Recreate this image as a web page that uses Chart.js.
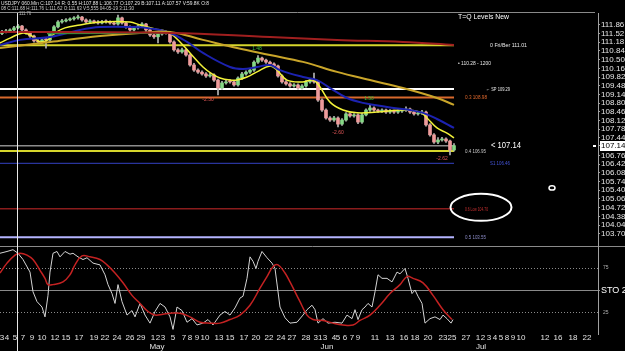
<!DOCTYPE html>
<html><head><meta charset="utf-8">
<script src="https://cdn.jsdelivr.net/npm/chart.js@4/dist/chart.umd.min.js"></script>
<style>
html,body{margin:0;padding:0;background:#000;overflow:hidden;width:625px;height:351px;}
#wrap{position:relative;width:625px;height:351px;background:#000;}
canvas{position:absolute;left:0;}
#c1{top:0;} #c2{top:246px;}
</style></head><body>
<div id="wrap"><canvas id="c1" width="625" height="246"></canvas><canvas id="c2" width="625" height="105"></canvas></div>
<script>
// ---------- DATA ----------
const opens = [111.52,111.58,111.62,111.66,111.74,111.81,111.66,111.54,111.42,111.23,
111.19,111.31,111.27,111.54,111.78,111.97,112.01,112.05,112.09,112.13,
112.16,112.05,111.97,112.01,111.97,111.93,112.01,111.97,111.93,111.89,
112.13,111.93,111.78,111.66,111.74,111.81,111.89,111.66,111.46,111.39,
111.50,111.58,111.54,111.19,110.88,110.80,110.88,110.68,110.29,110.09,
110.01,109.94,109.86,109.90,109.70,109.39,109.59,109.67,109.63,109.51,
109.78,109.94,110.01,110.09,110.40,110.56,110.48,110.40,110.33,110.25,
109.86,109.63,109.55,109.47,109.51,109.39,109.47,109.63,109.70,109.63,
108.92,108.53,108.22,108.14,108.22,107.98,108.14,108.38,108.30,108.34,
108.06,108.34,108.53,108.61,108.53,108.49,108.53,108.45,108.49,108.45,
108.49,108.53,108.57,108.45,108.38,108.41,108.45,107.95,107.56,107.28,
107.36,107.40,107.32,106.97];
const closes = [111.58,111.62,111.66,111.74,111.81,111.66,111.54,111.42,111.23,111.19,
111.27,111.27,111.54,111.78,111.97,112.01,112.05,112.09,112.13,112.16,
112.05,111.97,112.01,111.97,111.93,111.97,111.97,111.93,111.89,112.13,
111.93,111.78,111.66,111.74,111.81,111.89,111.66,111.46,111.39,111.50,
111.58,111.54,111.19,110.88,110.80,110.88,110.68,110.29,110.09,110.01,
109.94,109.86,109.90,109.70,109.39,109.59,109.63,109.63,109.51,109.78,
109.94,110.01,110.09,110.40,110.56,110.48,110.40,110.33,110.25,109.86,
109.63,109.55,109.47,109.51,109.39,109.47,109.63,109.70,109.63,108.92,
108.53,108.22,108.14,108.22,107.98,108.14,108.38,108.30,108.34,108.06,
108.34,108.53,108.61,108.53,108.49,108.53,108.45,108.49,108.45,108.49,
108.53,108.57,108.45,108.38,108.41,108.45,107.95,107.56,107.28,107.36,
107.40,107.32,106.97,107.14];
const highs = [111.64,111.68,111.70,111.80,111.88,111.84,111.70,111.58,111.46,111.28,
111.33,111.36,111.58,111.83,112.02,112.07,112.10,112.13,112.18,112.24,
112.19,112.09,112.06,112.04,112.02,112.03,112.05,112.01,111.98,112.24,
112.16,111.97,111.82,111.79,111.86,111.95,111.92,111.70,111.50,111.55,
111.63,111.61,111.58,111.23,110.93,110.95,110.92,110.72,110.35,110.14,
110.06,109.99,109.96,109.94,109.74,109.65,109.69,109.72,109.67,109.83,
110.00,110.06,110.14,110.45,110.66,110.60,110.52,110.44,110.37,110.29,
109.91,109.68,109.60,109.56,109.55,109.52,109.68,109.76,109.97,109.67,
108.97,108.58,108.27,108.28,108.26,108.20,108.43,108.42,108.39,108.38,
108.40,108.58,108.75,108.66,108.57,108.58,108.57,108.55,108.53,108.54,
108.60,108.66,108.61,108.50,108.46,108.52,108.49,108.00,107.61,107.45,
107.46,107.44,107.36,107.22];
const lows = [111.47,111.54,111.58,111.62,111.70,111.62,111.49,111.37,111.18,111.13,
111.14,110.95,111.22,111.49,111.74,111.92,111.97,112.01,112.04,112.08,
112.00,111.92,111.93,111.92,111.88,111.89,111.92,111.88,111.85,111.84,
111.88,111.73,111.61,111.62,111.69,111.76,111.60,111.41,111.33,111.15,
111.45,111.49,111.14,110.83,110.74,110.75,110.63,110.24,110.04,109.96,
109.89,109.80,109.81,109.65,109.12,109.34,109.54,109.58,109.46,109.46,
109.73,109.89,109.96,110.04,110.35,110.43,110.35,110.28,110.20,109.81,
109.58,109.50,109.42,109.42,109.34,109.35,109.42,109.58,109.58,108.87,
108.48,108.17,108.09,108.09,107.87,107.93,108.10,108.25,108.25,108.00,
108.01,108.30,108.48,108.48,108.44,108.44,108.40,108.40,108.40,108.40,
108.44,108.48,108.40,108.33,108.33,108.36,107.90,107.51,107.23,107.22,
107.31,107.27,106.78,106.92];

// moving averages (bar index, price)
const fastBars = [-0.5,2,5.25,7.5,9.5,11.5,13.25,15.75,19.5,24.5,32,34.5,38.25,40.75,42,44.5,47,50.25,52.5,54.5,57,58.75,61.25,63.75,67,68.75,71.25,75.25,77.75,79.5,82,85.25,88.75,93.75,100.25,104.5,106.25,108.75,111.25,113];
const fastVals = [111.15,111.34,111.54,111.42,111.19,111.27,111.54,111.74,111.85,111.97,111.97,111.85,111.70,111.62,111.54,111.19,110.76,110.21,109.94,109.78,109.70,109.70,109.82,110.02,110.25,110.09,109.70,109.63,109.70,109.43,108.84,108.53,108.42,108.45,108.53,108.45,108.22,107.83,107.63,107.44];
const blueBars = [-0.5,4.5,12,19.5,24.5,33,37.75,42,46.25,50.25,57,60.25,63.75,67,69.5,75.25,78.75,82,86.25,90.25,96.25,102,105.25,108.75,113];
const blueVals = [111.07,111.27,111.38,111.66,111.77,111.77,111.70,111.54,111.19,110.76,110.21,110.13,110.21,110.29,110.09,109.82,109.70,109.39,109.00,108.81,108.65,108.53,108.42,108.18,107.83];
const goldBars = [-0.5,12,24.5,34.5,42,50.25,58.75,67,75.25,83.75,92,100.25,108.75,113];
const goldVals = [110.95,111.19,111.42,111.54,111.58,111.27,110.95,110.68,110.41,110.02,109.70,109.39,109.00,108.73];
const redBars = [-0.5,42,67,83.75,100.25,113];
const redVals = [111.58,111.54,111.38,111.27,111.19,111.07];
const greenBars = [11.25,42];
const greenVals = [111.52,111.54];

// horizontal levels
const levelVals = [111.06,109.35,109.02,107.14,106.93,106.45,104.67,103.56];
const levelTexts = ['0 Fri/Ber 111.01','\u2190 SP 109.29','0.3 108.98','','0.4 106.95','S1 106.46','0.6 Low 104.70','0.5 103.55'];
const pivotVal = 110.28, pivotText = '\u2022 110.28 - 1200';
const lastPrice = 107.14;

// swing annotations
const swingBars = [5.75,51.5,63.75,84,91.75,110];
const swingVals = [112.28,108.92,110.91,107.63,108.96,106.62];
const swingTexts = ['111.76','-2.30','1.48','-2.60','1.50','-2.62'];

// price axis ticks
const yTicks = [111.86,111.52,111.18,110.84,110.50,110.16,109.82,109.48,109.14,108.80,108.46,108.12,107.78,107.44,107.14,106.76,106.42,106.08,105.74,105.40,105.06,104.72,104.38,104.04,103.70];

// stochastic (bar index, value)
const kBars = [-0.5,1.25,2.75,4,5.25,7,7.75,8.75,10,10.75,11.5,12,12.75,13.75,14.5,15.75,17,17.75,19,20.25,21.25,22.75,24.5,25.75,26.5,27.5,28.25,29,30,31.25,32.5,33.25,34.5,35.75,37,38.25,39.5,40.75,42,42.75,43.75,45,46.25,47.5,48.75,50.25,51.5,52.75,54.5,55.75,57,58.25,59.5,60.25,61.25,62,62.75,63.5,64,65,66.25,67.5,68.25,69.5,70.75,72,73.75,75.25,76.25,77.5,78.25,79,80.25,81.5,83.25,85,86.25,87.5,88.25,89,90,90.75,91.5,92.5,93.25,94,95,96.25,97.5,98.75,99.5,100.75,101.5,102.5,103.25,104,105,105.75,107,108.25,109.5,110.25,111.25,112.25,112.75];
const kVals = [91,93,95,91,84,70,48,37,31,20,44,70,91,93,87,93,90,91,87,84,86,80,78,67,56,46,35,56,37,22,27,20,35,22,13,26,35,31,20,6,31,27,14,18,11,13,17,11,22,26,22,30,41,43,63,87,82,74,82,93,86,80,74,31,19,13,14,22,28,33,28,13,18,13,14,13,22,18,28,17,28,31,35,31,48,67,63,63,59,70,68,74,63,46,50,43,35,13,18,20,17,22,18,13,17];
const dBars = [-0.5,1.25,3.25,4.5,6.25,7.75,9.5,10.75,11.5,12.75,15.25,17,18.25,20,22,24.5,26.25,28.25,30.25,32.5,34.5,36.5,38.25,40.25,42,44.5,47,49.5,52,54.5,57,59.5,62,64.5,66.25,67.75,69,70.75,72,74.5,76.25,77.75,80.25,82.75,85.25,87.75,89.5,92,94.5,97,99.5,101.25,102.75,105.25,107.75,110.25,112.5];
const dVals = [69,80,89,91,89,84,72,63,56,56,59,67,78,88,87,84,78,69,58,44,35,26,22,23,24,24,20,14,13,13,17,22,33,52,65,76,78,69,59,37,22,17,16,13,11,11,16,22,33,46,56,65,63,58,44,28,17];
const stoLevels = [75,50,25];
const stoText = 'STO 24';

// date axis
const tickBars = [0,1.25,3.25,5.25,7.5,10,13.25,16,19.25,23,25.75,28.75,32,34.75,37.75,39,40.25,42.75,45.5,47,48.75,50.75,54.25,57,60.5,63.5,66.75,69.75,72.5,76,79,80.75,83,84,85.75,87.5,89,93.25,97,100.5,103.25,106.5,110.25,112.5,116,119,120.25,121.75,123.25,124.75,126.25,127.75,129.75,135.75,139,142.75,146.25];
const tickLabels = ['3','4','5','7','9','10','12','15','17','19','22','24','26','29','1','2','3','5','7','8','9','10','13','15','17','20','22','24','27','28','31','3','4','5','6','7','9','11','13','16','18','20','23','25','27','1','2','3','4','5','8','9','10','12','16','18','22'];
const monthBars = [38.75, 81.25, 119.75];
const monthLabels = ['May','Jun','Jul'];
const cursorBar = 3.75;

const header1 = 'USDJPY 060.Min C:107.14 R: 0.55 H:107.88 L:106.77 O:107.29 B:107.11 A:107.57 V:59.8K O:8';
const header2 = '08 C:111.68 H:111.76 L:111.62 O:111.63 V:5,555 04-05-19 3:11:30';
const panelTitle = 'T=Q Levels New';

// ---------- STYLE ----------
const FONT = "'Liberation Sans', Arial, sans-serif";
const UP = '#86d886', DOWN = '#ee9b9b', WICK = '#b4b4b4';
const levelStyle = [
  {c:'#d6d62c', w:2, tx:490, tw:37, tc:'#e6e6e6'},
  {c:'#ffffff', w:2, tx:486, tw:24, tc:'#e6e6e6'},
  {c:'#d8692c', w:2, tx:465, tw:22, tc:'#e0682c'},
  {c:'#8c8c8c', w:1.5, tx:0, tw:0, tc:'#fff'},
  {c:'#d6d62c', w:2, tx:465, tw:21, tc:'#c8c8c8'},
  {c:'#3442c4', w:1, tx:490, tw:20, tc:'#4454d8'},
  {c:'#8a1c1c', w:1.5, tx:465, tw:23, tc:'#c83030'},
  {c:'#b4b4ff', w:2, tx:465, tw:21, tc:'#8c8cc8'}
];
Chart.defaults.font.family = FONT;
Chart.defaults.color = '#e0e0e0';

const pts = (xs, ys) => xs.map((x,i)=>({x:x, y:ys[i]}));
const maLine = (xs, ys, color, w) => ({type:'line', data:pts(xs,ys), borderColor:color, borderWidth:w, pointRadius:0, tension:0.4, fill:false, order:1});

const datasets = [
  maLine(redBars, redVals, '#a01f1f', 2),
  maLine(greenBars, greenVals, '#3a8c3a', 1.5),
  maLine(goldBars, goldVals, '#c9a52a', 2),
  maLine(blueBars, blueVals, '#1c22b0', 2),
  maLine(fastBars, fastVals, '#f2f23a', 1.5),
  {type:'bar', data:opens.map((o,i)=>({x:i, y:[o, closes[i]]})),
   backgroundColor:opens.map((o,i)=> closes[i] >= o ? UP : DOWN),
   barThickness:3, minBarLength:1, grouped:false, borderWidth:0, order:2},
  {type:'bar', data:lows.map((l,i)=>({x:i, y:[l, highs[i]]})),
   backgroundColor:WICK, barThickness:1, grouped:false, borderWidth:0, order:3}
];
levelVals.forEach((v,i)=>{
  datasets.push({type:'line', data:[{x:-0.5,y:v},{x:113,y:v}], borderColor:levelStyle[i].c,
    borderWidth:levelStyle[i].w, pointRadius:0, fill:false, order:4});
});

const pricePlugin = {
  id:'priceDeco',
  afterDatasetsDraw(chart){
    const {ctx, scales:{x, y}} = chart;
    ctx.save();
    ctx.strokeStyle='#8a8a8a'; ctx.lineWidth=1;
    ctx.beginPath(); ctx.moveTo(0,12.5); ctx.lineTo(595,12.5); ctx.stroke();
    const cx = Math.round(x.getPixelForValue(cursorBar))+0.5;
    ctx.strokeStyle='#e8e8e8';
    ctx.beginPath(); ctx.moveTo(cx,13); ctx.lineTo(cx,246); ctx.stroke();
    ctx.textBaseline='middle'; ctx.textAlign='left';
    ctx.fillStyle='#e4e4e4'; ctx.font='6px '+FONT;
    ctx.fillText(header1, 1, 3.5, 208);
    ctx.fillStyle='#cfcfcf';
    ctx.fillText(header2, 1, 8.5, 133);
    ctx.fillStyle='#ffffff'; ctx.font='7px '+FONT;
    ctx.fillText(panelTitle, 458, 17.5, 51);
    ctx.font='6px '+FONT;
    levelVals.forEach((v,i)=>{
      const t = levelTexts[i]; if(!t) return;
      const s = levelStyle[i];
      ctx.fillStyle = s.tc;
      ctx.fillText(t, s.tx, y.getPixelForValue(v), s.tw);
    });
    ctx.fillStyle='#e6e6e6';
    ctx.fillText(pivotText, 458, y.getPixelForValue(pivotVal)-1.5, 33);
    const ly = y.getPixelForValue(lastPrice);
    ctx.font='9px '+FONT; ctx.fillStyle='#ffffff';
    ctx.fillText('< '+lastPrice.toFixed(2), 491, ly, 30);
    ctx.font='5px '+FONT; ctx.textAlign='center';
    swingTexts.forEach((t,i)=>{
      ctx.fillStyle = i===0 ? '#b8b8b8' : (t.charAt(0)==='-' ? '#e05656' : '#3cbc3c');
      ctx.fillText(t, x.getPixelForValue(swingBars[i]), y.getPixelForValue(swingVals[i]), 12);
    });
    ctx.strokeStyle='#ffffff'; ctx.lineWidth=2;
    ctx.beginPath();
    ctx.ellipse(x.getPixelForValue(119.75), y.getPixelForValue(104.73), 30.5, 13.5, 0, 0, Math.PI*2);
    ctx.stroke();
    ctx.lineWidth=1.5;
    ctx.beginPath();
    ctx.ellipse(x.getPixelForValue(137.5), y.getPixelForValue(105.49), 3, 2.2, 0, 0, Math.PI*2);
    ctx.stroke();
    ctx.fillStyle='#ffffff';
    ctx.fillRect(600, Math.round(ly)-5, 25, 10);
    ctx.fillRect(593, Math.round(ly)-1, 3, 2);
    ctx.fillStyle='#000000'; ctx.font='8px '+FONT; ctx.textAlign='left';
    ctx.fillText(lastPrice.toFixed(2), 601, ly+0.5);
    ctx.restore();
  }
};

new Chart(document.getElementById('c1'), {
  type:'bar',
  data:{datasets},
  options:{
    responsive:false, animation:false, devicePixelRatio:1, events:[],
    layout:{padding:{top:13,left:0,right:0,bottom:0}},
    plugins:{legend:{display:false}, tooltip:{enabled:false}},
    scales:{
      x:{type:'linear', display:false, min:-0.5, max:149, offset:false},
      y:{type:'linear', position:'right', min:103.22, max:112.32, beginAtZero:false,
         afterBuildTicks:(s)=>{ s.ticks = yTicks.map(v=>({value:v})); },
         afterFit:(s)=>{ s.width = 27; s.paddingTop = 0; s.paddingBottom = 0; },
         ticks:{autoSkip:false, padding:1, color:'#e6e6e6', font:{size:8, family:FONT},
                callback:(v)=>Number(v).toFixed(2)},
         grid:{drawOnChartArea:false, color:'#a0a0a0', tickLength:2},
         border:{color:'#a0a0a0'}}
    }
  },
  plugins:[pricePlugin]
});

const stoPlugin = {
  id:'stoDeco',
  beforeDatasetsDraw(chart){
    const {ctx, scales:{x, y}, chartArea:a} = chart;
    ctx.save();
    ctx.strokeStyle='#8a8a8a'; ctx.lineWidth=1;
    ctx.beginPath(); ctx.moveTo(0,0.5); ctx.lineTo(625,0.5); ctx.stroke();
    stoLevels.forEach(v=>{
      const py = Math.round(y.getPixelForValue(v))+0.5;
      ctx.setLineDash(v===50 ? [] : [1,2]);
      ctx.beginPath(); ctx.moveTo(a.left, py); ctx.lineTo(v===50 ? 600 : a.right, py); ctx.stroke();
    });
    ctx.setLineDash([]);
    ctx.strokeStyle='#a0a0a0';
    ctx.beginPath(); ctx.moveTo(598.5,0); ctx.lineTo(598.5,89); ctx.stroke();
    ctx.restore();
  },
  afterDatasetsDraw(chart){
    const {ctx, scales:{x, y}, chartArea:a} = chart;
    ctx.save();
    const cx = Math.round(x.getPixelForValue(cursorBar))+0.5;
    ctx.strokeStyle='#e8e8e8'; ctx.lineWidth=1;
    ctx.beginPath(); ctx.moveTo(cx,0); ctx.lineTo(cx,105); ctx.stroke();
    ctx.textBaseline='middle'; ctx.textAlign='left';
    ctx.fillStyle='#b0b0b0'; ctx.font='5px '+FONT;
    ctx.fillText(String(stoLevels[0]), 603, y.getPixelForValue(stoLevels[0]));
    ctx.fillText(String(stoLevels[2]), 603, y.getPixelForValue(stoLevels[2]));
    ctx.fillStyle='#ffffff'; ctx.font='9px '+FONT;
    ctx.fillText(stoText, 601, y.getPixelForValue(stoLevels[1])+1);
    ctx.fillStyle='#e2e2e2'; ctx.font='8px '+FONT; ctx.textAlign='center';
    tickLabels.forEach((t,i)=>{
      ctx.fillText(t, x.getPixelForValue(tickBars[i]), a.bottom + 6);
    });
    monthLabels.forEach((t,i)=>{
      ctx.fillText(t, x.getPixelForValue(monthBars[i]), a.bottom + 15);
    });
    ctx.restore();
  }
};

new Chart(document.getElementById('c2'), {
  type:'line',
  data:{datasets:[
    {data:pts(dBars,dVals), borderColor:'#c42222', borderWidth:1.5, pointRadius:0, tension:0.4, fill:false},
    {data:pts(kBars,kVals), borderColor:'#d4d4d4', borderWidth:1, pointRadius:0, tension:0, fill:false}
  ]},
  options:{
    responsive:false, animation:false, devicePixelRatio:1, events:[],
    layout:{padding:{top:1,left:0,right:27,bottom:19}},
    plugins:{legend:{display:false}, tooltip:{enabled:false}},
    scales:{
      x:{type:'linear', display:false, min:-0.5, max:149, offset:false},
      y:{type:'linear', display:false, min:3.1, max:98}
    }
  },
  plugins:[stoPlugin]
});
</script>
</body></html>
